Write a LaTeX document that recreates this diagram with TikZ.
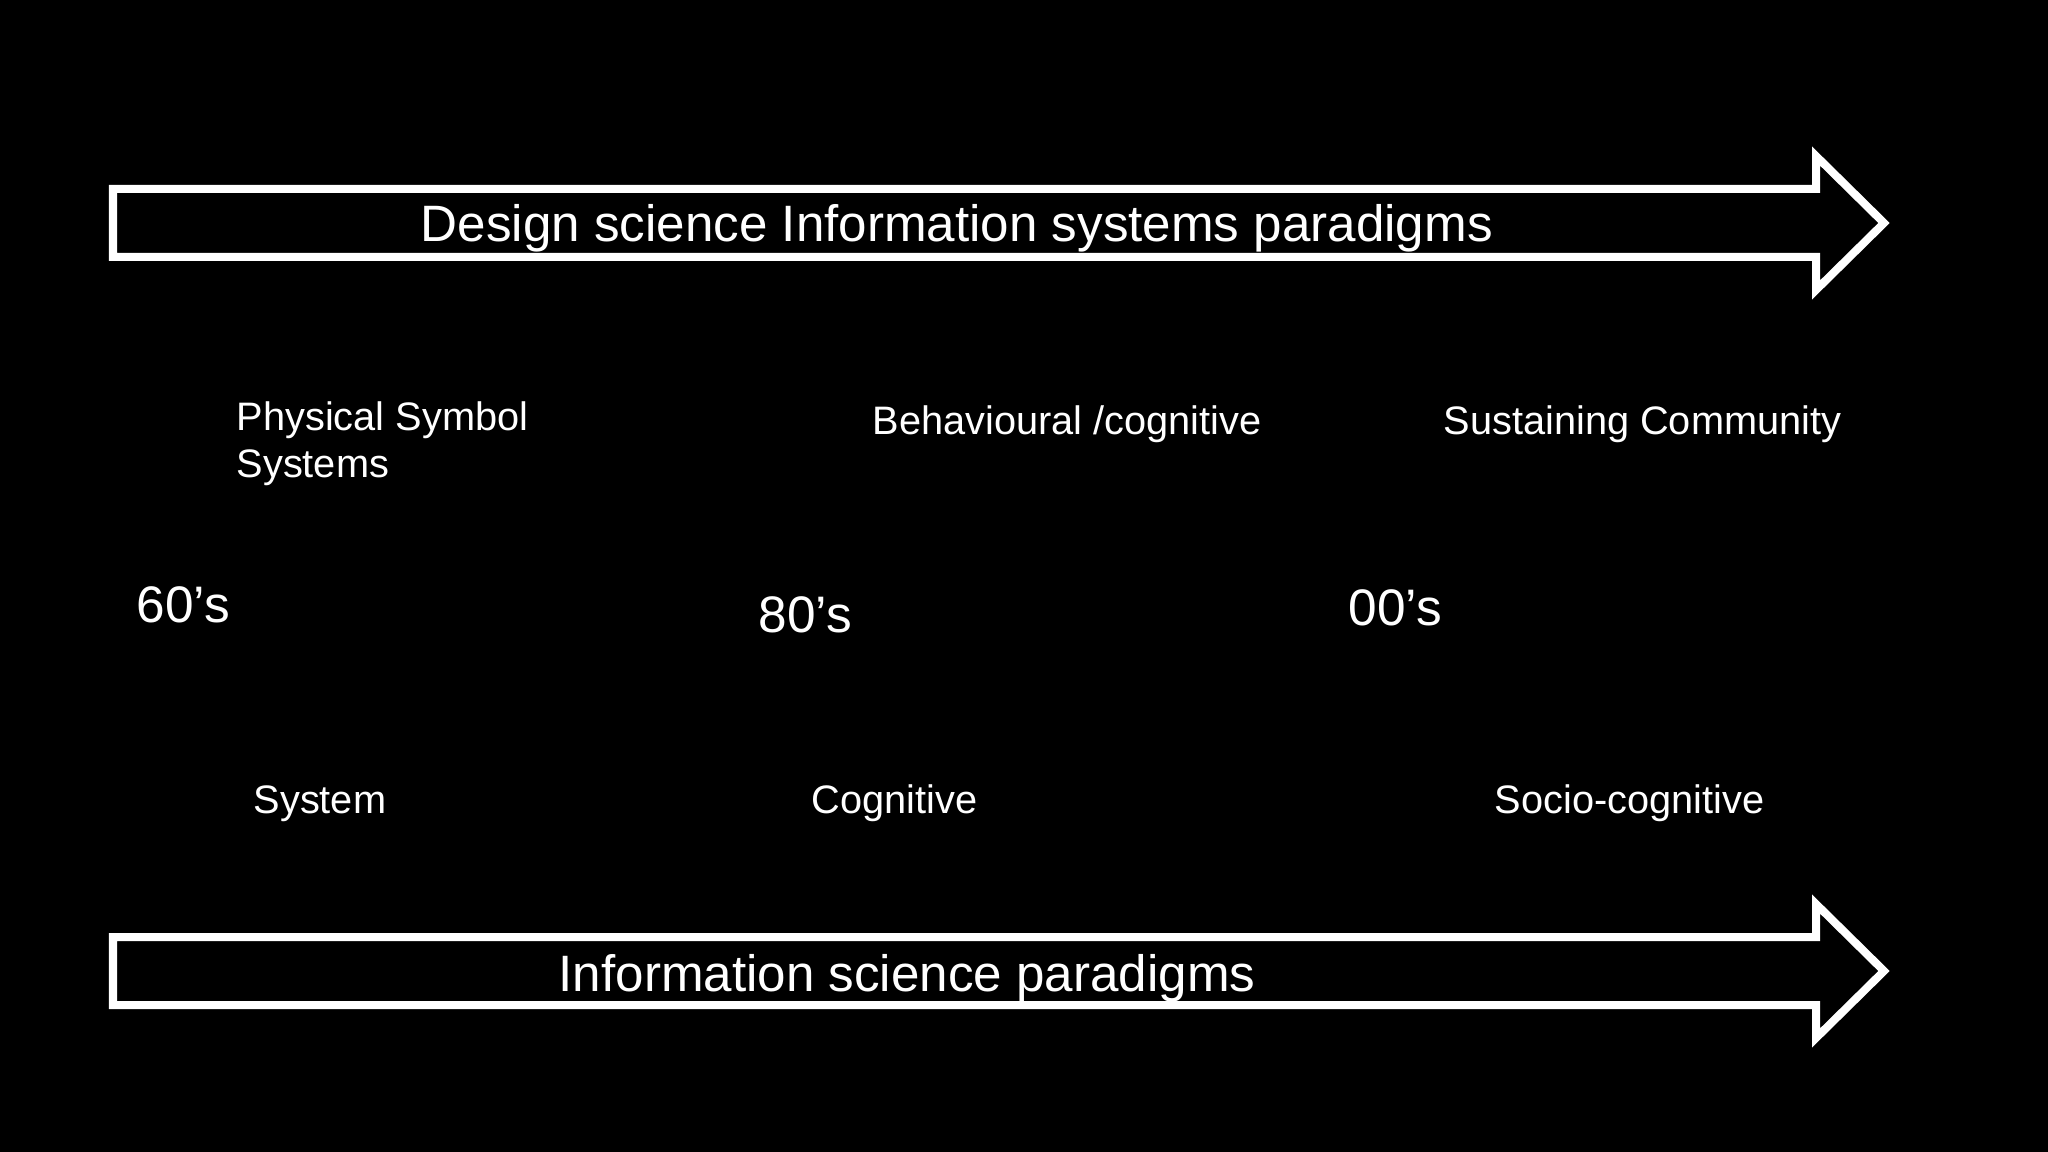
\documentclass[tikz,border=0pt]{standalone}
\usepackage{fontspec}
\setmainfont{Liberation Sans}
\begin{document}
\begin{tikzpicture}[x=0.01cm,y=-0.01cm,
  bigarrow/.style={draw=white,line width=0.08cm,line join=miter,miter limit=10},
  titletext/.style={text=white,anchor=base west,inner sep=0pt,font=\fontsize{14.55pt}{17pt}\selectfont},
  labeltext/.style={text=white,anchor=base west,inner sep=0pt,align=left,font=\fontsize{11.3pt}{13.6pt}\selectfont},
  yeartext/.style={text=white,anchor=base west,inner sep=0pt,font=\fontsize{14.6pt}{17pt}\selectfont}]
\fill[black] (0,0) rectangle (2048,1152);
\useasboundingbox (0,0) rectangle (2048,1152);
% top arrow
\draw[bigarrow] (113,189) -- (1816,189) -- (1816,156) -- (1884,223) -- (1816,290) -- (1816,257) -- (113,257) -- cycle;
% bottom arrow
\draw[bigarrow] (113,937) -- (1816,937) -- (1816,904) -- (1884,971) -- (1816,1038) -- (1816,1005) -- (113,1005) -- cycle;
\node[titletext] (top) at (420,242) {Design science Information systems paradigms};
\node[titletext] (bottom) at (558,991) {Information science paradigms};
\node[labeltext] (pss) at (236,478) {Physical Symbol\\Systems};
\node[labeltext] (beh) at (872,435) {Behavioural /cognitive};
\node[labeltext] (sus) at (1443,435) {Sustaining Community};
\node[yeartext] (y60) at (136,623) {60’s};
\node[yeartext] (y80) at (758,633) {80’s};
\node[yeartext] (y00) at (1348,625) {00’s};
\node[labeltext] (sys) at (253,813) {System};
\node[labeltext] (cog) at (811,813) {Cognitive};
\node[labeltext] (soc) at (1494,813) {Socio-cognitive};
\end{tikzpicture}
\end{document}
